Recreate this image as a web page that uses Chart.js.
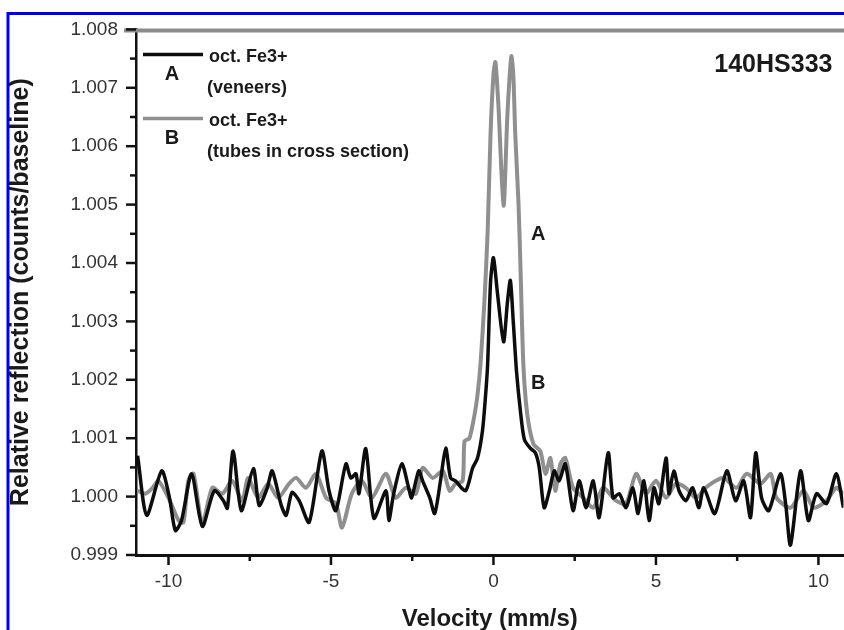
<!DOCTYPE html>
<html>
<head>
<meta charset="utf-8">
<script src="https://cdn.jsdelivr.net/npm/chart.js@4.4.0/dist/chart.umd.min.js"></script>
<style>
  html, body { margin: 0; padding: 0; background: #fff; }
  #chart { display: block; }
</style>
</head>
<body>
<canvas id="chart" width="844" height="630"></canvas>
<script>
// Spectrum A: oct. Fe3+ (veneers), black trace
const velA = [-10.95,-10.67,-10.21,-9.97,-9.79,-9.60,-9.29,-8.96,-8.59,-8.31,-8.19,-8.01,-7.76,-7.39,-7.21,-6.96,-6.81,-6.53,-6.38,-6.20,
  -5.98,-5.67,-5.28,-5.06,-4.85,-4.54,-4.39,-4.23,-4.14,-3.93,-3.68,-3.31,-3.22,-3.07,-2.82,-2.61,-2.52,-2.30,-2.18,-1.96,
  -1.81,-1.63,-1.47,-1.32,-1.17,-0.86,-0.64,-0.49,-0.34,-0.25,-0.18,-0.09,0.00,0.12,0.31,0.43,0.52,0.61,0.71,0.83,
  0.95,1.13,1.29,1.41,1.56,1.72,1.87,2.02,2.21,2.45,2.64,2.85,3.07,3.25,3.53,3.68,3.87,4.08,4.29,4.45,
  4.63,4.79,4.94,5.09,5.31,5.40,5.55,5.71,5.92,6.13,6.32,6.47,6.81,7.18,7.45,7.70,7.91,8.07,8.25,8.47,
  8.83,8.99,9.14,9.45,9.69,9.94,10.25,10.55,10.77];
const relA = [1.00070,0.99968,1.00044,0.99998,0.99942,0.99959,1.00039,0.99949,1.00010,0.99993,0.99980,1.00078,0.99976,1.00048,0.99985,1.00015,1.00044,0.99985,0.99968,1.00007,
  0.99993,0.99956,1.00078,1.00010,0.99976,1.00056,1.00032,1.00039,1.00005,1.00082,0.99963,1.00010,0.99959,1.00005,1.00056,1.00015,0.99998,1.00044,1.00027,0.99998,
  0.99971,1.00027,1.00083,1.00032,1.00027,1.00010,1.00049,1.00066,1.00112,1.00168,1.00226,1.00367,1.00409,1.00350,1.00265,1.00333,1.00370,1.00299,1.00214,1.00146,
  1.00098,1.00083,1.00075,1.00049,0.99981,1.00010,1.00044,1.00027,1.00056,0.99976,1.00027,0.99981,1.00027,0.99964,1.00075,0.99998,1.00005,0.99981,1.00015,0.99971,
  1.00027,0.99959,1.00015,0.99988,1.00066,1.00005,1.00044,1.00010,0.99993,1.00015,0.99981,1.00015,0.99971,1.00044,0.99993,1.00027,0.99964,1.00075,0.99998,0.99976,
  1.00039,0.99988,0.99917,1.00044,0.99959,1.00005,0.99988,1.00039,0.99981];

// Spectrum B: oct. Fe3+ (tubes in cross section), grey trace
const velB = [-10.95,-10.71,-10.49,-10.31,-10.00,-9.69,-9.54,-9.39,-9.23,-8.96,-8.65,-8.34,-8.04,-7.73,-7.55,-7.24,-6.93,-6.63,-6.29,-6.07,
  -5.77,-5.46,-5.15,-4.85,-4.66,-4.36,-4.05,-3.74,-3.31,-3.01,-2.70,-2.39,-2.18,-1.87,-1.56,-1.35,-1.17,-0.95,-0.89,-0.74,
  -0.58,-0.49,-0.40,-0.28,-0.18,-0.09,0.00,0.06,0.15,0.31,0.43,0.55,0.61,0.67,0.77,0.83,0.92,1.04,1.23,1.44,
  1.60,1.75,1.90,2.06,2.21,2.45,2.76,3.07,3.37,3.77,4.08,4.39,4.69,5.00,5.31,5.61,5.92,6.23,6.53,6.84,
  7.09,7.48,7.79,8.22,8.53,8.71,9.14,9.54,9.85,10.25,10.55,10.77];
const relB = [1.00010,1.00005,1.00015,1.00027,0.99998,0.99959,0.99956,1.00027,1.00039,0.99954,1.00015,1.00005,1.00027,0.99993,1.00032,0.99998,1.00022,0.99998,1.00022,1.00032,
  1.00015,1.00039,0.99998,0.99988,0.99947,1.00005,1.00027,0.99998,1.00039,0.99998,1.00015,1.00005,1.00049,1.00032,1.00044,1.00010,1.00022,1.00027,1.00095,1.00100,
  1.00141,1.00175,1.00226,1.00333,1.00452,1.00621,1.00723,1.00744,1.00672,1.00498,1.00655,1.00754,1.00723,1.00621,1.00503,1.00396,1.00226,1.00141,1.00090,1.00078,
  1.00039,1.00066,1.00010,1.00056,1.00066,1.00015,0.99998,0.99981,1.00015,0.99993,0.99988,1.00039,1.00005,1.00027,0.99998,1.00022,1.00015,0.99998,1.00015,1.00027,
  1.00032,1.00015,1.00039,1.00022,1.00039,0.99998,0.99981,1.00010,0.99981,0.99993,1.00015,1.00005];

const xRange = [-11, 10.77];
const yRange = [0.999, 1.008];
const legendLines = [
  { color: '#0d0d0d', tag: 'A', text: ['oct. Fe3+', '(veneers)'] },
  { color: '#8f8f8f', tag: 'B', text: ['oct. Fe3+', '(tubes in cross section)'] }
];
const sampleName = '140HS333';
// curve tags near the peak: [velocity, value, text]
const peakTags = [[1.38, 1.00449, 'A'], [1.38, 1.00194, 'B']];

const FONT = "'Liberation Sans', Arial, sans-serif";

const decor = {
  id: 'decor',
  afterDraw(chart) {
    const ctx = chart.ctx;
    const { left, top, right, bottom } = chart.chartArea;
    const sx = chart.scales.x, sy = chart.scales.y;
    ctx.save();

    // grey top frame
    ctx.strokeStyle = '#8c8c8c';
    ctx.lineWidth = 4;
    ctx.beginPath();
    ctx.moveTo(left - 12, top + 1);
    ctx.lineTo(chart.width, top + 1);
    ctx.stroke();

    // tick marks, major and minor
    ctx.strokeStyle = '#111';
    ctx.lineWidth = 2.5;
    const yt = sy.ticks.map(t => t.value);
    yt.forEach((v, i) => {
      const p = sy.getPixelForValue(v);
      ctx.beginPath(); ctx.moveTo(left - 10, p); ctx.lineTo(left, p); ctx.stroke();
      if (i < yt.length - 1) {
        const m = sy.getPixelForValue((v + yt[i + 1]) / 2);
        ctx.beginPath(); ctx.moveTo(left - 6, m); ctx.lineTo(left, m); ctx.stroke();
      }
    });
    const xt = sx.ticks.map(t => t.value);
    xt.forEach((v, i) => {
      const p = sx.getPixelForValue(v);
      ctx.beginPath(); ctx.moveTo(p, bottom); ctx.lineTo(p, bottom + 10); ctx.stroke();
      if (i < xt.length - 1) {
        const m = sx.getPixelForValue((v + xt[i + 1]) / 2);
        ctx.beginPath(); ctx.moveTo(m, bottom); ctx.lineTo(m, bottom + 6); ctx.stroke();
      }
    });

    // legend
    ctx.textBaseline = 'middle';
    legendLines.forEach((item, i) => {
      const ly = top + 25 + i * 64;
      ctx.strokeStyle = item.color;
      ctx.lineWidth = 3.5;
      ctx.beginPath(); ctx.moveTo(left + 7, ly); ctx.lineTo(left + 67, ly); ctx.stroke();
      ctx.fillStyle = '#1a1a1a';
      ctx.font = 'bold 20px ' + FONT;
      ctx.textAlign = 'center';
      ctx.fillText(item.tag, left + 36, ly + 20);
      ctx.font = 'bold 18px ' + FONT;
      ctx.textAlign = 'left';
      ctx.fillText(item.text[0], left + 73, ly + 3);
      ctx.fillText(item.text[1], left + 71, ly + 34);
    });

    // sample name
    ctx.font = 'bold 25px ' + FONT;
    ctx.textAlign = 'right';
    ctx.fillText(sampleName, right - 11, top + 36);

    // tags on the curves
    ctx.font = 'bold 20px ' + FONT;
    ctx.textAlign = 'center';
    peakTags.forEach(([vx, vy, t]) => {
      ctx.fillText(t, sx.getPixelForValue(vx), sy.getPixelForValue(vy));
    });

    // blue outer frame
    ctx.strokeStyle = '#0000ee';
    ctx.lineWidth = 3;
    ctx.strokeRect(8, 13.5, chart.width + 20, chart.height + 20);
    ctx.restore();
  }
};

new Chart(document.getElementById('chart'), {
  type: 'line',
  data: {
    datasets: [
      {
        label: 'A',
        data: velA.map((v, i) => ({ x: v, y: relA[i] })),
        borderColor: legendLines[0].color,
        borderWidth: 3.5,
        pointRadius: 0,
        tension: 0.25
      },
      {
        label: 'B',
        data: velB.map((v, i) => ({ x: v, y: relB[i] })),
        borderColor: legendLines[1].color,
        borderWidth: 4,
        pointRadius: 0,
        tension: 0.25
      }
    ]
  },
  options: {
    responsive: false,
    animation: false,
    devicePixelRatio: 1,
    layout: { padding: { left: 0, right: 0, top: 25, bottom: 0 } },
    plugins: { legend: { display: false }, tooltip: { enabled: false } },
    scales: {
      x: {
        type: 'linear',
        min: xRange[0],
        max: xRange[1],
        afterFit(scale) { scale.height = 75; },
        border: { display: true, color: '#111', width: 3 },
        grid: { display: false, drawTicks: false },
        ticks: {
          stepSize: 5,
          includeBounds: false,
          padding: 15,
          color: '#333',
          font: { family: FONT, size: 19 }
        },
        title: {
          display: true,
          text: 'Velocity (mm/s)',
          color: '#1a1a1a',
          font: { family: FONT, size: 24, weight: 'bold', lineHeight: 1 },
          padding: { top: 0, bottom: -1 }
        }
      },
      y: {
        min: yRange[0],
        max: yRange[1],
        afterFit(scale) { scale.width = 136; },
        border: { display: true, color: '#111', width: 2.5 },
        grid: { display: false, drawTicks: false },
        ticks: {
          stepSize: 0.001,
          includeBounds: false,
          padding: 18,
          color: '#333',
          font: { family: FONT, size: 19 },
          callback: v => v.toFixed(3)
        },
        title: {
          display: true,
          text: 'Relative reflection (counts/baseline)',
          color: '#1a1a1a',
          font: { family: FONT, size: 25, weight: 'bold', lineHeight: 1 },
          padding: { top: 9, bottom: 0 }
        }
      }
    }
  },
  plugins: [decor]
});
</script>
</body>
</html>
